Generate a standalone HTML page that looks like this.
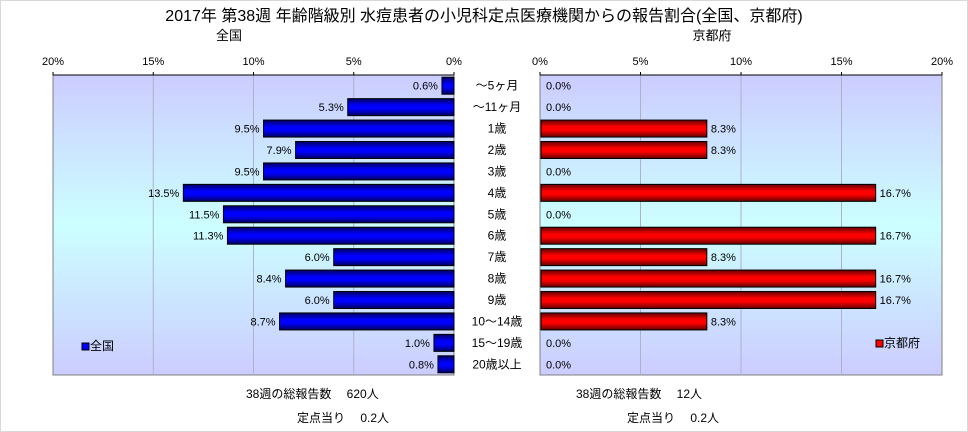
<!DOCTYPE html>
<html><head><meta charset="utf-8"><style>
body{margin:0;background:#fff;}
svg{display:block;font-family:"Liberation Sans","Noto Sans CJK JP",sans-serif;}
</style></head><body>
<svg width="968" height="432" viewBox="0 0 968 432">
<defs>
<linearGradient id="bg" x1="0" y1="0" x2="0" y2="1">
<stop offset="0" stop-color="#ccccff"/><stop offset="0.5" stop-color="#ccffff"/><stop offset="1" stop-color="#ccccff"/>
</linearGradient>
<linearGradient id="blue" x1="0" y1="0" x2="0" y2="1">
<stop offset="0" stop-color="#000060"/><stop offset="0.4" stop-color="#0000ff"/><stop offset="0.6" stop-color="#0000ff"/><stop offset="1" stop-color="#000060"/>
</linearGradient>
<linearGradient id="red" x1="0" y1="0" x2="0" y2="1">
<stop offset="0" stop-color="#600000"/><stop offset="0.4" stop-color="#ff0000"/><stop offset="0.6" stop-color="#ff0000"/><stop offset="1" stop-color="#600000"/>
</linearGradient>
</defs>
<rect x="0.5" y="0.5" width="967" height="431" fill="#fff" stroke="#d8d8d8"/>
<text x="484" y="21" text-anchor="middle" font-size="16">2017年 第38週 年齢階級別 水痘患者の小児科定点医療機関からの報告割合(全国、京都府)</text>
<text x="229" y="40" text-anchor="middle" font-size="13">全国</text>
<text x="712" y="40" text-anchor="middle" font-size="13">京都府</text>
<rect x="53" y="75" width="401" height="300" fill="url(#bg)" stroke="#808080"/>
<rect x="540" y="75" width="402" height="300" fill="url(#bg)" stroke="#808080"/>
<g id="g"></g>
<rect x="82" y="343" width="7" height="7" fill="#0000ff" stroke="#000"/>
<text x="90" y="350" font-size="12">全国</text>
<rect x="876" y="340" width="7" height="7" fill="#ff0000" stroke="#000"/>
<text x="884" y="347" font-size="12">京都府</text>
<text x="246" y="398" font-size="12">38週の総報告数　 620人</text>
<text x="297" y="422" font-size="12">定点当り　 0.2人</text>
<text x="576" y="398" font-size="12">38週の総報告数　 12人</text>
<text x="627" y="422" font-size="12">定点当り　 0.2人</text>
</svg>
<script>
const categories=["～5ヶ月","～11ヶ月","1歳","2歳","3歳","4歳","5歳","6歳","7歳","8歳","9歳","10～14歳","15～19歳","20歳以上"];
const nationalValues=[0.6,5.3,9.5,7.9,9.5,13.5,11.5,11.3,6.0,8.4,6.0,8.7,1.0,0.8];
const kyotoValues=[0.0,0.0,8.3,8.3,0.0,16.7,0.0,16.7,8.3,16.7,16.7,8.3,0.0,0.0];
const tickValues=[0,5,10,15,20];
const NS="http://www.w3.org/2000/svg";
const g=document.getElementById('g');
const top0=75,rowH=300/categories.length,barH=17;
const xL=v=>454-v*401/20;
const xR=v=>540+v*402/20;
const yC=i=>top0+(i+0.5)*rowH;
function mk(t,a,txt){const e=document.createElementNS(NS,t);for(const k in a)e.setAttribute(k,a[k]);if(txt!==undefined)e.textContent=txt;g.appendChild(e);return e;}
tickValues.forEach(v=>{
 if(v>0&&v<20){
  let l=mk('line',{x1:xL(v),x2:xL(v),y1:75,y2:375,stroke:'#b0b0c8'});
  
  
  let r=mk('line',{x1:xR(v),x2:xR(v),y1:75,y2:375,stroke:'#b0b0c8'});
  
  
 }
 let a=mk('line',{x1:xL(v),x2:xL(v),y1:72,y2:75,stroke:'#000'});
 
 
 let b=mk('line',{x1:xR(v),x2:xR(v),y1:72,y2:75,stroke:'#000'});
 
 
 let t1=mk('text',{x:xL(v),y:65,'text-anchor':'middle','font-size':11},v+'%');
 
 
 let t2=mk('text',{x:xR(v),y:65,'text-anchor':'middle','font-size':11},v+'%');
 
 
});
mk('line',{x1:53,x2:454,y1:75,y2:75,stroke:'#000'});
mk('line',{x1:540,x2:942,y1:75,y2:75,stroke:'#000'});
categories.forEach((c,i)=>{
 const y=yC(i);
 let cl=mk('text',{x:497,y:y+4,'text-anchor':'middle','font-size':12},c);
 
 
 const nv=nationalValues[i];
 if(nv>0){let b=mk('rect',{x:xL(nv),y:y-barH/2,width:xL(0)-xL(nv),height:barH,fill:'url(#blue)',stroke:'#000'});
 
 }
 let nl=mk('text',{x:xL(nv)-4,y:y+4,'text-anchor':'end','font-size':11},nv.toFixed(1)+'%');
 
 
 const kv=kyotoValues[i];
 if(kv>0){let b=mk('rect',{x:xR(0)+1,y:y-barH/2,width:xR(kv)-xR(0)-1,height:barH,fill:'url(#red)',stroke:'#000'});
 
 }
 let kl=mk('text',{x:xR(kv)+(kv>0?4:6),y:y+4,'font-size':11},kv.toFixed(1)+'%');
 
 
});
</script>
</body></html>
